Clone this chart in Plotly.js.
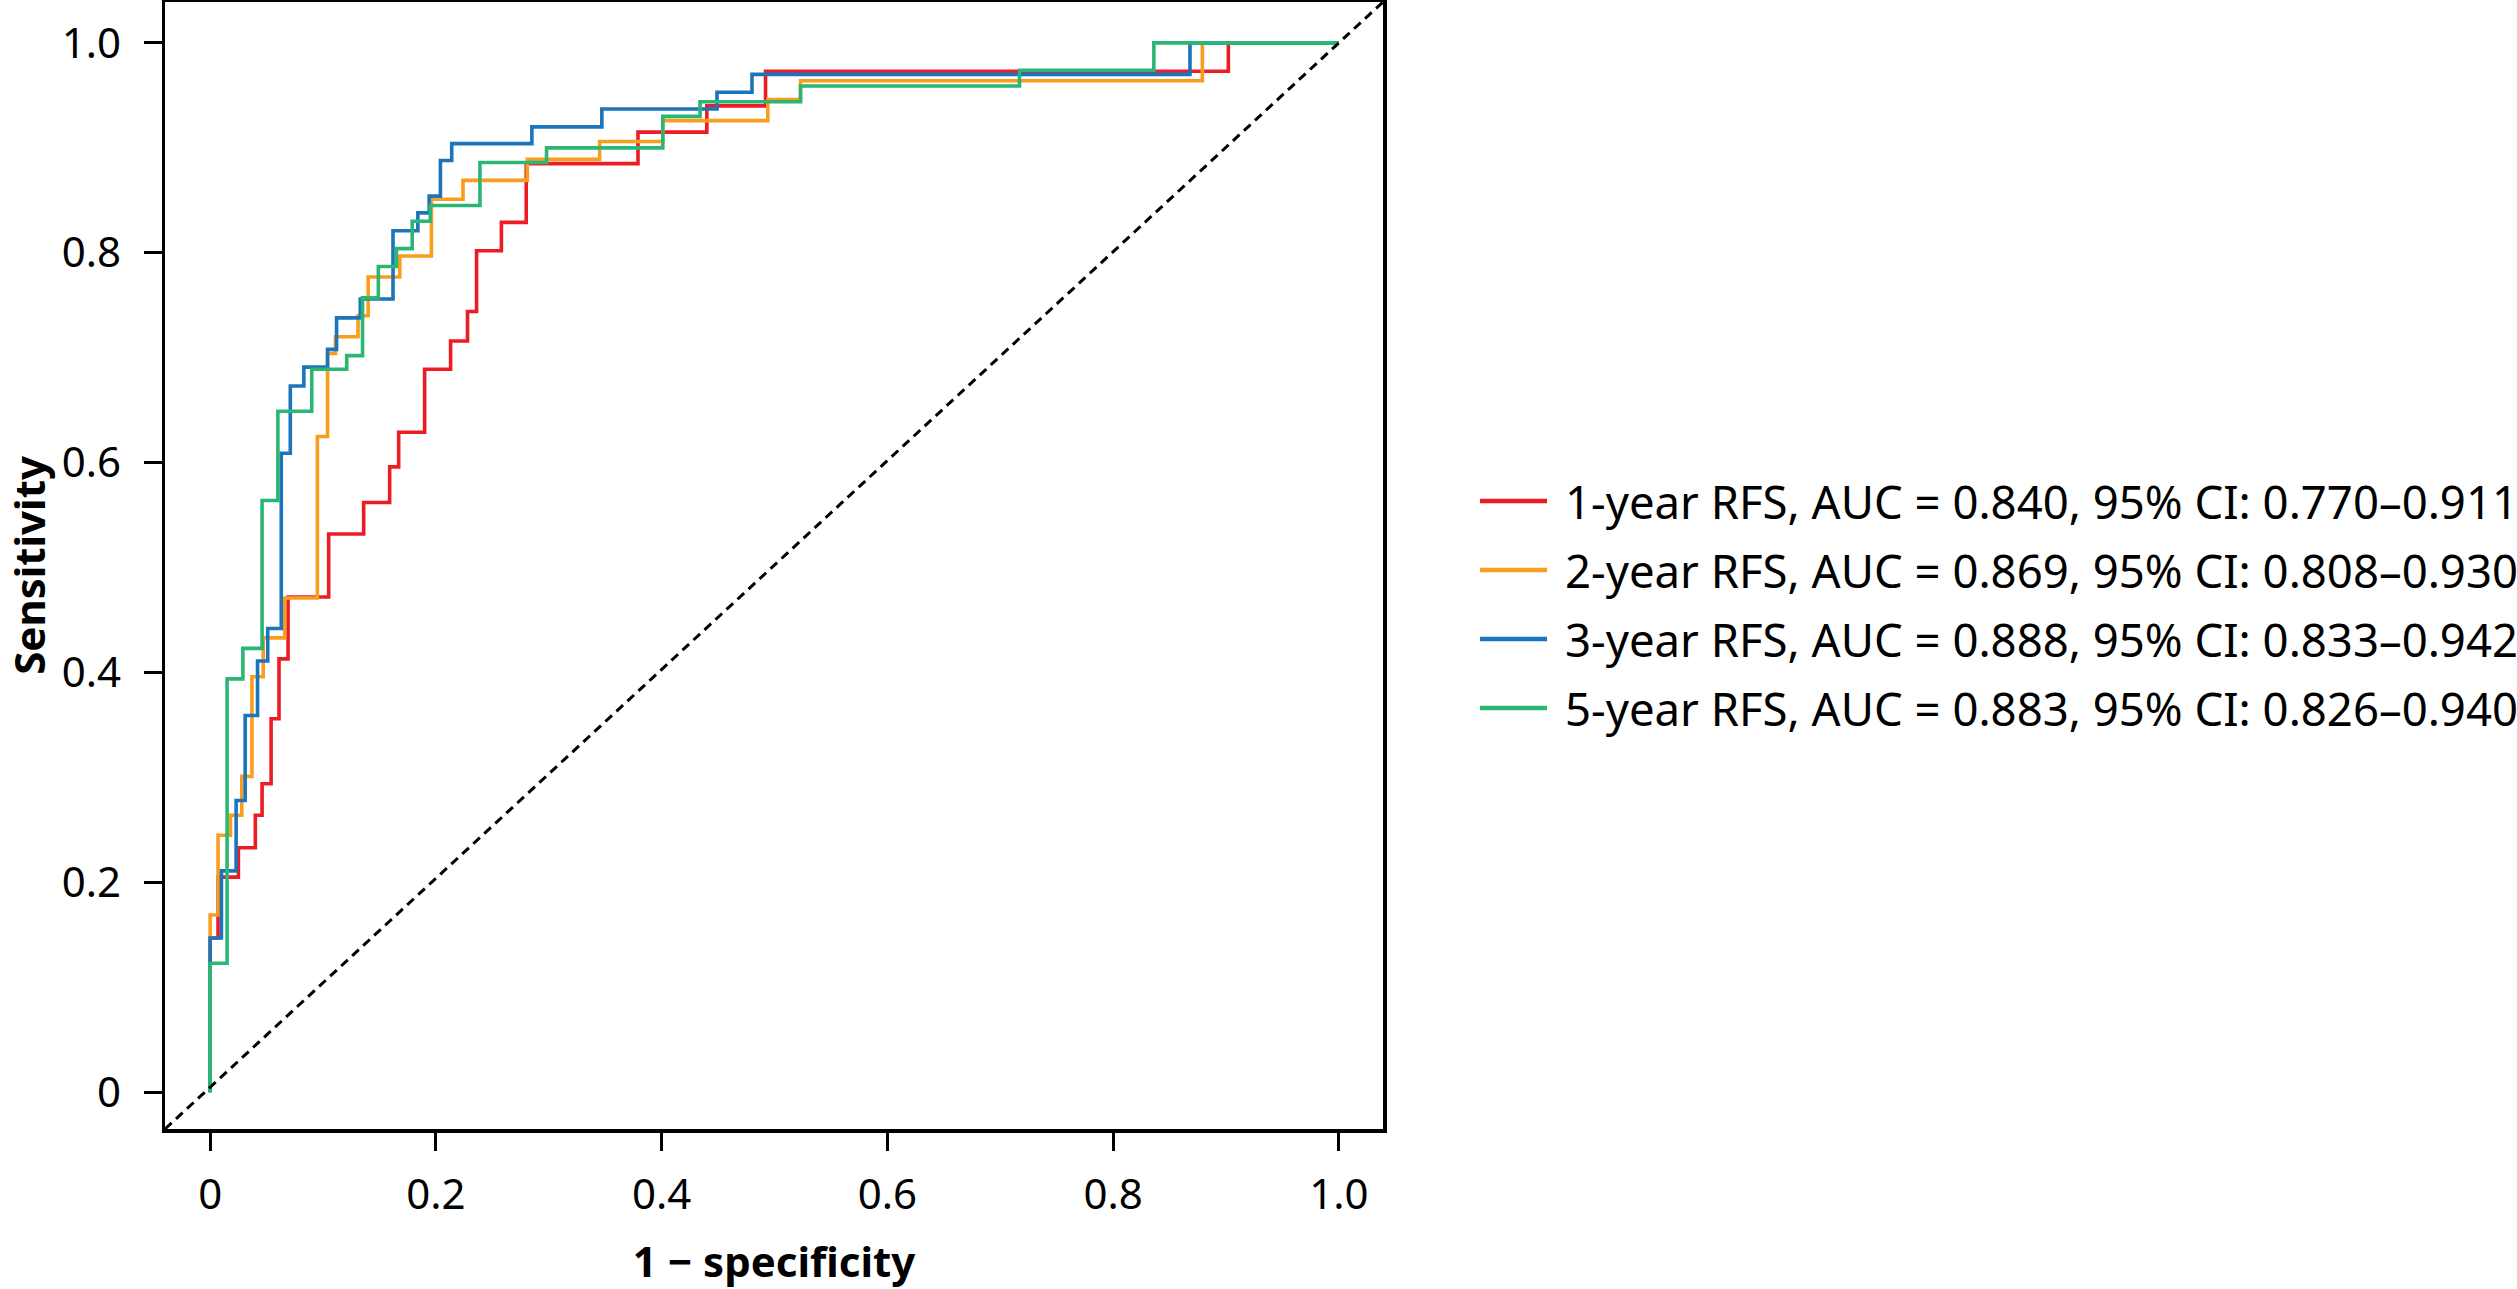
<!DOCTYPE html>
<html>
<head>
<meta charset="utf-8">
<script src="https://cdn.plot.ly/plotly-3.0.1.min.js"></script>
<style>html,body{margin:0;padding:0;background:#fff;}#chart{width:2517px;height:1289px;}</style>
</head>
<body>
<div id="chart"></div>
<script>
// Series names (legend labels)
const seriesNames = [
  "1-year RFS, AUC = 0.840, 95% CI: 0.770–0.911",
  "2-year RFS, AUC = 0.869, 95% CI: 0.808–0.930",
  "3-year RFS, AUC = 0.888, 95% CI: 0.833–0.942",
  "5-year RFS, AUC = 0.883, 95% CI: 0.826–0.940"
];
// ROC step points (1 - specificity, sensitivity)
const fpr1 = [0, 0, 0.007, 0.025, 0.040, 0.046, 0.054, 0.061, 0.069, 0.105, 0.136, 0.159, 0.167, 0.190, 0.213, 0.228, 0.236, 0.258, 0.280, 0.379, 0.440, 0.492, 0.902, 1.0];
const tpr1 = [0, 0.147, 0.205, 0.233, 0.264, 0.294, 0.356, 0.413, 0.472, 0.532, 0.562, 0.596, 0.629, 0.689, 0.716, 0.744, 0.802, 0.829, 0.885, 0.915, 0.940, 0.973, 1.0, 1.0];

const fpr2 = [0, 0, 0.007, 0.018, 0.028, 0.037, 0.047, 0.066, 0.095, 0.104, 0.111, 0.131, 0.140, 0.168, 0.196, 0.224, 0.281, 0.345, 0.401, 0.494, 0.523, 0.879, 1.0];
const tpr2 = [0, 0.169, 0.245, 0.264, 0.301, 0.396, 0.433, 0.471, 0.625, 0.704, 0.720, 0.740, 0.777, 0.797, 0.851, 0.869, 0.889, 0.906, 0.926, 0.946, 0.964, 1.0, 1.0];

const fpr3 = [0, 0, 0.010, 0.023, 0.031, 0.042, 0.051, 0.063, 0.071, 0.083, 0.104, 0.112, 0.133, 0.162, 0.184, 0.194, 0.204, 0.214, 0.285, 0.347, 0.449, 0.480, 0.868, 1.0];
const tpr3 = [0, 0.147, 0.211, 0.278, 0.359, 0.411, 0.442, 0.609, 0.673, 0.691, 0.708, 0.738, 0.756, 0.821, 0.838, 0.854, 0.888, 0.904, 0.920, 0.937, 0.953, 0.970, 1.0, 1.0];

const fpr5 = [0, 0, 0.015, 0.029, 0.046, 0.060, 0.090, 0.121, 0.135, 0.149, 0.165, 0.179, 0.195, 0.239, 0.298, 0.401, 0.434, 0.523, 0.717, 0.836, 1.0];
const tpr5 = [0, 0.123, 0.394, 0.423, 0.564, 0.649, 0.689, 0.702, 0.757, 0.787, 0.804, 0.830, 0.845, 0.886, 0.900, 0.930, 0.944, 0.959, 0.974, 1.0, 1.0];

const tickVals = [0, 0.2, 0.4, 0.6, 0.8, 1.0];
const tickText = ["0", "0.2", "0.4", "0.6", "0.8", "1.0"];

const colors = ["#ED1C24", "#F99D1F", "#1C75BC", "#2BB673"];
const xs = [fpr1, fpr2, fpr3, fpr5];
const ys = [tpr1, tpr2, tpr3, tpr5];

const FONT = "Noto Sans, Open Sans, sans-serif";

const W = 2517, H = 1289;
const M = {l: 165, r: 1134, t: 2, b: 160};
const plotW = W - M.l - M.r, plotH = H - M.t - M.b;
const px2paperX = p => (p - M.l) / plotW;
const px2paperY = p => (H - M.b - p) / plotH;

const traces = xs.map((x, i) => ({
  x: x, y: ys[i], type: "scatter", mode: "lines",
  name: seriesNames[i], showlegend: false,
  line: {color: colors[i], width: 3.6, shape: "hv"},
  hoverinfo: "skip"
}));

// Legend drawn as line samples + labels (paper coordinates)
const legendRowY = [501, 570, 639, 708];
const legendShapes = seriesNames.map((n, i) => ({
  type: "line", xref: "paper", yref: "paper", layer: "above",
  x0: px2paperX(1480), x1: px2paperX(1547),
  y0: px2paperY(legendRowY[i]), y1: px2paperY(legendRowY[i]),
  line: {color: colors[i], width: 4.5}
}));
const legendLabels = seriesNames.map((n, i) => ({
  xref: "paper", yref: "paper", x: px2paperX(1563), y: px2paperY(legendRowY[i]),
  xanchor: "left", yanchor: "middle", showarrow: false, text: n,
  font: {family: FONT, size: 45.5, color: "#000"}
}));

const axisCommon = {
  showline: true, linecolor: "#000", linewidth: 3.5, mirror: true,
  ticks: "outside", ticklen: 18, tickwidth: 3, tickcolor: "#000",
  showgrid: false, zeroline: false,
  tickvals: tickVals, ticktext: tickText,
  tickfont: {family: FONT, size: 42, color: "#000"}
};

const layout = {
  width: W, height: H,
  margin: M,
  paper_bgcolor: "#fff", plot_bgcolor: "#fff",
  font: {family: FONT, color: "#000"},
  xaxis: Object.assign({}, axisCommon, {
    range: [-0.04, 1.039], ticklabelstandoff: 8,
    title: {text: "1 − specificity", font: {family: FONT, size: 42, color: "#000", weight: "bold"}, standoff: 30}
  }),
  yaxis: Object.assign({}, axisCommon, {
    range: [-0.035, 1.039], ticklabelstandoff: 14,
    title: {text: "Sensitivity", font: {family: FONT, size: 42, color: "#000", weight: "bold"}, standoff: 16}
  }),
  showlegend: false,
  annotations: legendLabels,
  shapes: [{
    type: "line", xref: "x domain", yref: "y domain",
    x0: 0, y0: 0, x1: 1, y1: 1, layer: "above",
    line: {color: "#000", width: 3, dash: "9px,6px"}
  }].concat(legendShapes)
};

Plotly.newPlot("chart", traces, layout, {displayModeBar: false, staticPlot: true});
</script>
</body>
</html>
